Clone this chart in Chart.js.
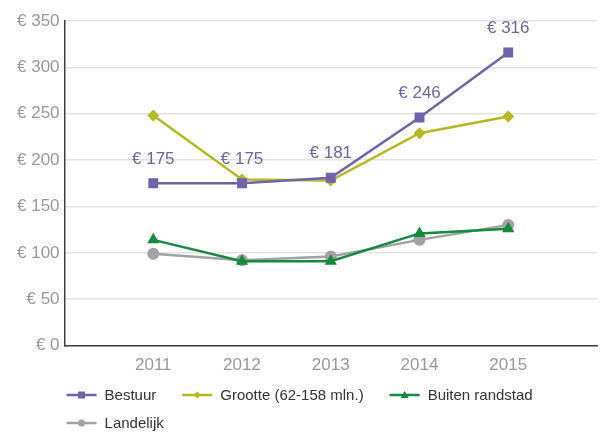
<!DOCTYPE html>
<html>
<head>
<meta charset="utf-8">
<script src="https://cdn.jsdelivr.net/npm/chart.js@4/dist/chart.umd.min.js"></script>
<style>
  html, body { margin: 0; padding: 0; background: #fff; }
  #wrap { width: 607px; height: 432px; }
</style>
</head>
<body>
<div id="wrap"><canvas id="myChart"></canvas></div>
<script>
'use strict';

let years = ['2011', '2012', '2013', '2014', '2015'];
let yTicks = [0, 50, 100, 150, 200, 250, 300, 350];

let bestuur = [175, 175, 181, 246, 316];
let grootte = [248, 179, 178, 229, 247];
let buiten = [114, 91, 91, 121, 126];
let landelijk = [99, 92, 96, 114, 130];

let seriesNames = ['Bestuur', 'Grootte (62-158 mln.)', 'Buiten randstad', 'Landelijk'];
let seriesColors = ['#6f63aa', '#b3b823', '#138a3f', '#a2a2a2'];
let seriesStyles = ['rect', 'rectRot', 'triangle', 'circle'];
let seriesRadius = [7, 6, 7, 6];

const FONT = '"Liberation Sans", Arial, sans-serif';

// empty slot on each side, like the original
let labels = [''].concat(years, ['']);
function pad(arr) {
  return [null].concat(arr, [null]);
}

function drawMarker(ctx, style, x, y) {
  ctx.beginPath();
  if (style === 'rect') {
    ctx.rect(x - 3.5, y - 3.5, 7, 7);
  } else if (style === 'rectRot') {
    ctx.moveTo(x, y - 3.5);
    ctx.lineTo(x + 3.5, y);
    ctx.lineTo(x, y + 3.5);
    ctx.lineTo(x - 3.5, y);
  } else if (style === 'triangle') {
    ctx.moveTo(x, y - 4);
    ctx.lineTo(x + 4, y + 3);
    ctx.lineTo(x - 4, y + 3);
  } else {
    ctx.arc(x, y, 3.5, 0, Math.PI * 2);
  }
  ctx.closePath();
  ctx.fill();
}

let seriesData = [bestuur, grootte, buiten, landelijk];
let datasets = [];
for (let i = 0; i < seriesData.length; i++) {
  datasets.push({
    label: seriesNames[i],
    data: pad(seriesData[i]),
    borderColor: seriesColors[i],
    backgroundColor: seriesColors[i],
    borderWidth: 2.5,
    pointStyle: seriesStyles[i],
    pointRadius: seriesRadius[i],
    pointBorderWidth: 0,
    tension: 0,
    order: i
  });
}

// value labels above the Bestuur points
const bestuurLabels = {
  id: 'bestuurLabels',
  afterDatasetsDraw(chart) {
    let meta = chart.getDatasetMeta(0);
    let ctx = chart.ctx;
    ctx.save();
    ctx.font = '17px ' + FONT;
    ctx.fillStyle = seriesColors[0];
    ctx.textAlign = 'center';
    ctx.textBaseline = 'middle';
    meta.data.forEach((pt, idx) => {
      let v = chart.data.datasets[0].data[idx];
      if (v !== null) {
        ctx.fillText('€ ' + v, pt.x, pt.y - 24);
      }
    });
    ctx.restore();
  }
};

// legend with a line and marker per series, wrapping like the original
const lineLegend = {
  id: 'lineLegend',
  afterDraw(chart) {
    let ctx = chart.ctx;
    ctx.save();
    ctx.font = '15px ' + FONT;
    ctx.textBaseline = 'middle';
    ctx.textAlign = 'left';
    let startX = chart.chartArea.left + 2;
    let x = startX;
    let y = 395;
    chart.data.datasets.forEach((ds, i) => {
      let w = 38 + ctx.measureText(ds.label).width;
      if (x > startX && x + w > chart.width - 4) {
        x = startX;
        y += 28;
      }
      ctx.strokeStyle = seriesColors[i];
      ctx.fillStyle = seriesColors[i];
      ctx.lineWidth = 2.5;
      ctx.beginPath();
      ctx.moveTo(x, y);
      ctx.lineTo(x + 30, y);
      ctx.stroke();
      drawMarker(ctx, seriesStyles[i], x + 15, y);
      ctx.fillStyle = '#333333';
      ctx.fillText(ds.label, x + 38, y + 1);
      x += w + 26;
    });
    ctx.restore();
  }
};

let canvasChart = document.getElementById('myChart').getContext('2d');
const myChart = new Chart(canvasChart, {
  type: 'line',
  data: {
    labels: labels,
    datasets: datasets
  },
  options: {
    responsive: true,
    maintainAspectRatio: false,
    animation: false,
    layout: {
      padding: { top: 21, right: 7, left: 12, bottom: 46 }
    },
    plugins: {
      tooltip: { enabled: false },
      legend: { display: false }
    },
    scales: {
      x: {
        offset: false,
        grid: { display: false, drawTicks: false },
        border: { display: true, color: '#404040', width: 1.5 },
        ticks: {
          color: '#999999',
          padding: 10,
          maxRotation: 0,
          autoSkip: false,
          font: { family: FONT, size: 17 }
        }
      },
      y: {
        min: yTicks[0],
        max: yTicks[yTicks.length - 1],
        afterBuildTicks(scale) {
          scale.ticks = yTicks.map(v => ({ value: v }));
        },
        grid: { color: '#e3e3e3', lineWidth: 1.5, drawTicks: false },
        border: { display: true, color: '#404040', width: 1.5 },
        ticks: {
          color: '#999999',
          padding: 5,
          font: { family: FONT, size: 17 },
          callback: v => '€ ' + v
        }
      }
    }
  },
  plugins: [bestuurLabels, lineLegend]
});
</script>
</body>
</html>
